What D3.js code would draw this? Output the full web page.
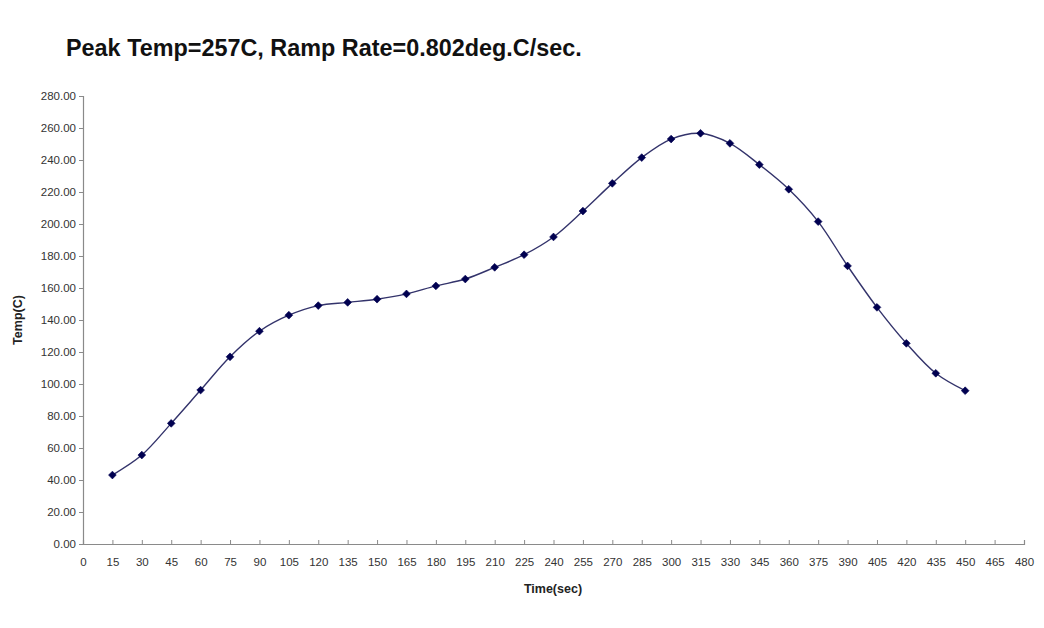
<!DOCTYPE html>
<html>
<head>
<meta charset="utf-8">
<script src="https://cdn.jsdelivr.net/npm/d3@7"></script>
<style>
  html, body { margin: 0; padding: 0; background: #ffffff; }
  svg { display: block; }
</style>
</head>
<body>
<div id="chart"></div>
<script>
// ---- data ----
const times = [15, 30, 45, 60, 75, 90, 105, 120, 135, 150, 165, 180, 195, 210, 225,
               240, 255, 270, 285, 300, 315, 330, 345, 360, 375, 390, 405, 420, 435, 450];
const temps = [43.1, 55.6, 75.4, 96.2, 117.0, 133.0, 143.0, 149.0, 151.0, 153.0,
               156.3, 161.3, 165.6, 172.9, 180.8, 191.9, 208.1, 225.4, 241.5, 253.1,
               256.7, 250.4, 237.1, 221.7, 201.5, 173.8, 147.9, 125.4, 106.7, 95.8];
const xTicks = d3.range(0, 481, 15);
const yTicks = d3.range(0, 281, 20);
const titleText = "Peak Temp=257C, Ramp Rate=0.802deg.C/sec.";
const xTitle = "Time(sec)";
const yTitle = "Temp(C)";

// ---- layout ----
const W = 1044, H = 628;
const svg = d3.select("#chart").append("svg").attr("width", W).attr("height", H);
svg.append("rect").attr("width", W).attr("height", H).attr("fill", "#ffffff");

const x = d3.scaleLinear().domain([0, 480]).range([83, 1024]);
const y = d3.scaleLinear().domain([0, 280]).range([544, 96]);

const font = "Arial, 'Liberation Sans', Helvetica, sans-serif";

// title
svg.append("text")
  .attr("x", 66).attr("y", 56)
  .attr("font-family", font).attr("font-weight", "bold").attr("font-size", 23.4)
  .attr("fill", "#111")
  .text(titleText);

// y axis
const yAxis = d3.axisLeft(y).tickValues(yTicks).tickSize(4).tickPadding(3)
  .tickFormat(d => d.toFixed(2));
const gy = svg.append("g").attr("transform", `translate(${x(0)},0)`).call(yAxis);
gy.select(".domain").attr("stroke", "#8a8a8a").attr("stroke-width", 1.2);
gy.selectAll(".tick line").attr("stroke", "#8a8a8a");
gy.selectAll(".tick text").attr("font-family", font).attr("font-size", 11.5).attr("fill", "#333");

// x axis
const xAxis = d3.axisBottom(x).tickValues(xTicks).tickSize(-4).tickPadding(14)
  .tickFormat(d3.format("d"));
const gx = svg.append("g").attr("transform", `translate(0,${y(0)})`).call(xAxis);
gx.select(".domain").attr("stroke", "#8a8a8a").attr("stroke-width", 1.2);
gx.selectAll(".tick line").attr("stroke", "#8a8a8a");
gx.selectAll(".tick text").attr("font-family", font).attr("font-size", 11.5).attr("fill", "#333");

// axis titles
svg.append("text")
  .attr("x", 553).attr("y", 593)
  .attr("text-anchor", "middle")
  .attr("font-family", font).attr("font-weight", "bold").attr("font-size", 12.5)
  .attr("fill", "#222")
  .text(xTitle);
svg.append("text")
  .attr("transform", `translate(22,320) rotate(-90)`)
  .attr("text-anchor", "middle")
  .attr("font-family", font).attr("font-weight", "bold").attr("font-size", 12.5)
  .attr("fill", "#222")
  .text(yTitle);

// line
const pts = times.map((t, i) => [t, temps[i]]);
const line = d3.line().x(d => x(d[0])).y(d => y(d[1])).curve(d3.curveCatmullRom.alpha(0.5));
svg.append("path").datum(pts)
  .attr("d", line)
  .attr("fill", "none").attr("stroke", "#33336b").attr("stroke-width", 1.4);

// markers (square rotated 45 degrees = Excel diamond)
const sym = d3.symbol().type(d3.symbolSquare).size(30);
svg.append("g").selectAll("path").data(pts).join("path")
  .attr("transform", d => `translate(${x(d[0])},${y(d[1])}) rotate(45)`)
  .attr("d", sym)
  .attr("fill", "#000050").attr("stroke", "#000050").attr("stroke-width", 0.6);
</script>
</body>
</html>
